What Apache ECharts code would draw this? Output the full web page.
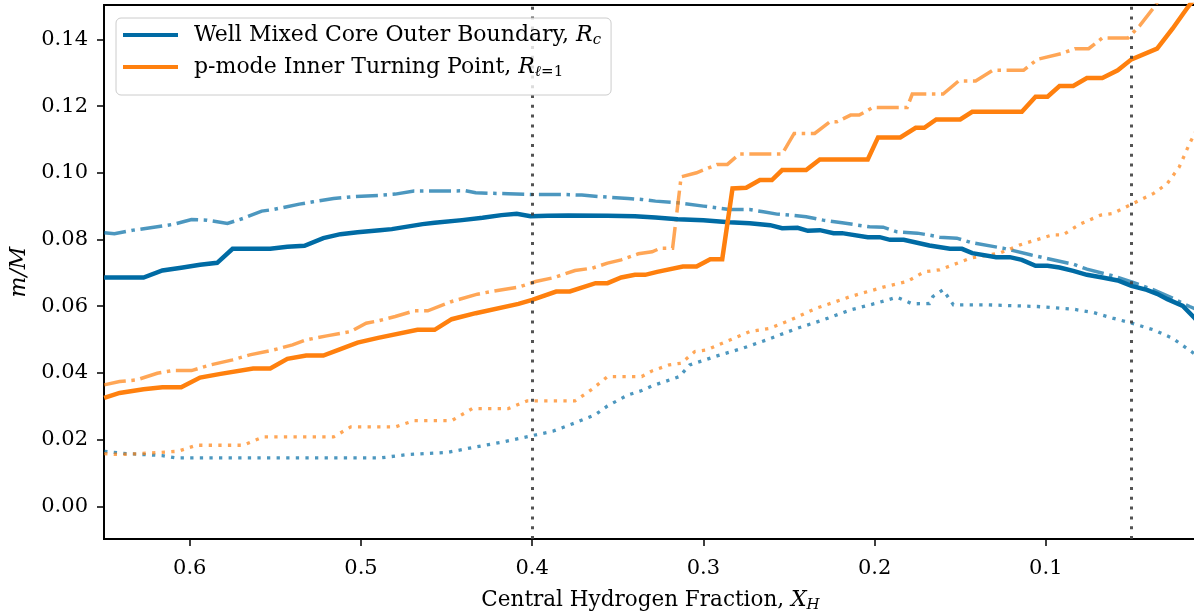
<!DOCTYPE html>
<html>
<head>
<meta charset="utf-8">
<script src="https://cdn.jsdelivr.net/npm/echarts@6/dist/echarts.min.js"></script>
<style>html,body{margin:0;padding:0;background:#fff}#c{width:1194px;height:611px}</style>
</head>
<body>
<div id="c"></div>
<script>
// ---- data (x = central hydrogen fraction, y = m/M) ----
const coreSolid = [[0.650,0.0686],[0.627,0.0686],[0.616,0.0707],[0.605,0.0715],[0.594,0.0724],[0.584,0.0730],[0.575,0.0772],[0.553,0.0772],[0.543,0.0778],[0.533,0.0781],[0.522,0.0804],[0.512,0.0816],[0.502,0.0822],[0.489,0.0828],[0.482,0.0831],[0.464,0.0846],[0.457,0.0850],[0.441,0.0858],[0.429,0.0865],[0.418,0.0873],[0.409,0.0877],[0.401,0.0870],[0.391,0.0871],[0.379,0.0872],[0.356,0.0871],[0.340,0.0870],[0.328,0.0866],[0.315,0.0861],[0.300,0.0858],[0.285,0.0852],[0.273,0.0849],[0.261,0.0843],[0.254,0.0834],[0.245,0.0835],[0.239,0.0826],[0.232,0.0828],[0.224,0.0819],[0.219,0.0819],[0.204,0.0807],[0.197,0.0807],[0.191,0.0799],[0.183,0.0799],[0.168,0.0782],[0.156,0.0772],[0.149,0.0772],[0.143,0.0759],[0.129,0.0747],[0.121,0.0747],[0.114,0.0739],[0.106,0.0721],[0.099,0.0721],[0.092,0.0716],[0.084,0.0706],[0.076,0.0694],[0.067,0.0686],[0.058,0.0677],[0.050,0.0661],[0.041,0.0649],[0.035,0.0637],[0.029,0.0621],[0.020,0.0601],[0.013,0.0564],[0.011,0.0552]];
const coreDashDot = [[0.650,0.0820],[0.644,0.0817],[0.633,0.0828],[0.619,0.0838],[0.609,0.0846],[0.599,0.0860],[0.590,0.0858],[0.578,0.0848],[0.569,0.0863],[0.558,0.0885],[0.551,0.0890],[0.536,0.0906],[0.528,0.0913],[0.516,0.0923],[0.505,0.0928],[0.490,0.0932],[0.480,0.0936],[0.469,0.0945],[0.453,0.0945],[0.439,0.0946],[0.433,0.0940],[0.414,0.0937],[0.400,0.0935],[0.383,0.0935],[0.371,0.0933],[0.359,0.0928],[0.344,0.0923],[0.336,0.0920],[0.328,0.0915],[0.315,0.0910],[0.300,0.0900],[0.285,0.0890],[0.273,0.0890],[0.265,0.0883],[0.257,0.0876],[0.249,0.0873],[0.240,0.0868],[0.230,0.0858],[0.219,0.0850],[0.203,0.0838],[0.195,0.0837],[0.187,0.0823],[0.175,0.0819],[0.168,0.0813],[0.162,0.0807],[0.152,0.0804],[0.143,0.0790],[0.125,0.0774],[0.109,0.0754],[0.096,0.0739],[0.084,0.0726],[0.076,0.0711],[0.061,0.0691],[0.049,0.0671],[0.037,0.0649],[0.026,0.0624],[0.016,0.0599],[0.011,0.0588]];
const coreDotted = [[0.650,0.0165],[0.637,0.0158],[0.616,0.0152],[0.608,0.0145],[0.489,0.0145],[0.473,0.0155],[0.449,0.0162],[0.433,0.0178],[0.418,0.0192],[0.400,0.0212],[0.388,0.0225],[0.375,0.0250],[0.363,0.0275],[0.356,0.0301],[0.344,0.0334],[0.336,0.0347],[0.330,0.0361],[0.314,0.0389],[0.308,0.0424],[0.292,0.0451],[0.277,0.0474],[0.263,0.0499],[0.245,0.0534],[0.230,0.0559],[0.214,0.0589],[0.199,0.0609],[0.187,0.0627],[0.178,0.0607],[0.168,0.0608],[0.166,0.0629],[0.160,0.0649],[0.154,0.0604],[0.134,0.0604],[0.105,0.0599],[0.084,0.0591],[0.072,0.0581],[0.061,0.0564],[0.051,0.0551],[0.037,0.0529],[0.026,0.0504],[0.015,0.0464],[0.011,0.0448]];
const pSolid = [[0.650,0.0325],[0.641,0.0340],[0.627,0.0351],[0.616,0.0357],[0.605,0.0357],[0.594,0.0386],[0.582,0.0397],[0.563,0.0413],[0.553,0.0413],[0.543,0.0442],[0.532,0.0452],[0.522,0.0452],[0.512,0.0471],[0.502,0.0491],[0.490,0.0505],[0.467,0.0529],[0.457,0.0529],[0.447,0.0561],[0.433,0.0579],[0.408,0.0607],[0.400,0.0619],[0.386,0.0644],[0.378,0.0644],[0.363,0.0669],[0.356,0.0669],[0.348,0.0686],[0.340,0.0694],[0.334,0.0694],[0.327,0.0703],[0.312,0.0719],[0.304,0.0719],[0.296,0.0741],[0.289,0.0741],[0.283,0.0953],[0.275,0.0955],[0.267,0.0978],[0.260,0.0978],[0.254,0.1008],[0.240,0.1008],[0.232,0.1040],[0.204,0.1040],[0.198,0.1106],[0.185,0.1106],[0.176,0.1135],[0.171,0.1135],[0.164,0.1160],[0.150,0.1160],[0.143,0.1183],[0.114,0.1183],[0.106,0.1228],[0.099,0.1228],[0.092,0.1260],[0.084,0.1260],[0.076,0.1284],[0.067,0.1284],[0.058,0.1307],[0.050,0.1340],[0.035,0.1372],[0.026,0.1432],[0.017,0.1497],[0.013,0.1523]];
const pDashDot = [[0.650,0.0364],[0.641,0.0374],[0.631,0.0379],[0.619,0.0399],[0.610,0.0407],[0.599,0.0407],[0.588,0.0424],[0.575,0.0439],[0.565,0.0454],[0.551,0.0469],[0.540,0.0484],[0.532,0.0499],[0.520,0.0511],[0.506,0.0524],[0.497,0.0549],[0.490,0.0556],[0.480,0.0569],[0.469,0.0586],[0.461,0.0586],[0.447,0.0614],[0.432,0.0636],[0.424,0.0644],[0.408,0.0657],[0.398,0.0674],[0.387,0.0686],[0.375,0.0707],[0.365,0.0714],[0.356,0.0729],[0.348,0.0739],[0.338,0.0757],[0.330,0.0763],[0.325,0.0774],[0.318,0.0774],[0.313,0.0988],[0.304,0.1000],[0.292,0.1025],[0.286,0.1025],[0.279,0.1056],[0.254,0.1056],[0.247,0.1118],[0.235,0.1118],[0.226,0.1153],[0.222,0.1153],[0.214,0.1173],[0.209,0.1173],[0.201,0.1196],[0.181,0.1196],[0.178,0.1236],[0.160,0.1236],[0.151,0.1275],[0.141,0.1275],[0.131,0.1307],[0.113,0.1307],[0.105,0.1340],[0.091,0.1357],[0.083,0.1372],[0.075,0.1372],[0.067,0.1404],[0.052,0.1404],[0.045,0.1442],[0.037,0.1495],[0.033,0.1526]];
const pDotted = [[0.650,0.0158],[0.641,0.0155],[0.629,0.0158],[0.607,0.0165],[0.596,0.0183],[0.569,0.0183],[0.557,0.0208],[0.516,0.0208],[0.506,0.0238],[0.480,0.0238],[0.469,0.0257],[0.447,0.0257],[0.435,0.0293],[0.414,0.0293],[0.403,0.0316],[0.375,0.0316],[0.365,0.0351],[0.356,0.0389],[0.336,0.0389],[0.330,0.0406],[0.320,0.0424],[0.313,0.0429],[0.305,0.0464],[0.298,0.0469],[0.273,0.0524],[0.261,0.0534],[0.249,0.0559],[0.234,0.0594],[0.214,0.0629],[0.195,0.0657],[0.181,0.0674],[0.171,0.0703],[0.162,0.0709],[0.144,0.0744],[0.127,0.0759],[0.115,0.0784],[0.096,0.0814],[0.090,0.0814],[0.080,0.0846],[0.068,0.0873],[0.061,0.0878],[0.049,0.0908],[0.037,0.0938],[0.029,0.0968],[0.022,0.1018],[0.016,0.1088],[0.013,0.1118],[0.011,0.1140]];
const markerX = [0.4, 0.05];
const xTicks = [0.1, 0.2, 0.3, 0.4, 0.5, 0.6];
const yTicks = [0.00, 0.02, 0.04, 0.06, 0.08, 0.10, 0.12, 0.14];
const legendNames = ['Well Mixed Core Outer Boundary', 'p-mode Inner Turning Point'];

// ---- styling ----
const FONT = 'DejaVu Serif';
const BLUE = '#006BA4', ORANGE = '#FF800E';
const DASHDOT = [22, 5.6, 3.5, 5.6];
const DOT = [3.3, 6.3];
const rich = {
  g: {fontFamily: FONT, fontSize: 22, color: '#000', lineHeight: 26, padding: [0, 0, 0, 11]},
  n: {fontFamily: FONT, fontSize: 22, color: '#000', lineHeight: 26},
  i: {fontFamily: FONT, fontSize: 22, fontStyle: 'italic', color: '#000', lineHeight: 26},
  s: {fontFamily: FONT, fontSize: 15, fontStyle: 'italic', color: '#000', lineHeight: 15, verticalAlign: 'bottom'},
  su: {fontFamily: FONT, fontSize: 15, color: '#000', lineHeight: 15, verticalAlign: 'bottom'}
};

function lineSeries(name, data, color, type, width, opacity, z) {
  return {
    name: name, type: 'line', data: data, symbol: 'none', showSymbol: false,
    clip: true, z: z, silent: true,
    lineStyle: {color: color, width: width, type: type, opacity: opacity, cap: 'butt', join: 'miter'},
    itemStyle: {color: color}
  };
}

const chart = echarts.init(document.getElementById('c'), null, {renderer: 'canvas'});
chart.setOption({
  animation: false,
  backgroundColor: '#fff',
  grid: {left: 104, right: -3, top: 5, bottom: 72, show: true, borderColor: '#000', borderWidth: 1.8,
         backgroundColor: 'transparent', containLabel: false, outerBoundsMode: 'none'},
  legend: {
    data: legendNames, orient: 'vertical', left: 116, top: 18, z: 20,
    icon: 'rect', itemWidth: 55, itemHeight: 4, itemGap: 8,
    backgroundColor: 'rgba(255,255,255,0.8)', borderColor: '#cccccc', borderWidth: 1, borderRadius: 5,
    padding: [6, 10, 15, 7],
    textStyle: {rich: rich, fontFamily: FONT, fontSize: 22, color: '#000'},
    formatter: function (name) {
      if (name === legendNames[0]) return '{g|Well Mixed Core Outer Boundary, }{i|R}{s|c}';
      return '{g|p-mode Inner Turning Point, }{i|R}{s|ℓ}{su|=1}';
    }
  },
  xAxis: {
    type: 'value', inverse: true, min: 0.0117, max: 0.6501,
    name: 'Central Hydrogen Fraction, {i|X}{s|H}', nameLocation: 'middle', nameGap: 48,
    nameTextStyle: {fontFamily: FONT, fontSize: 21.5, color: '#000', rich: rich},
    axisLine: {show: true, onZero: false, lineStyle: {color: '#000', width: 1.8}},
    axisTick: {show: true, customValues: xTicks, length: 7, inside: false, lineStyle: {color: '#000', width: 1.5}},
    axisLabel: {customValues: xTicks, formatter: function (v) { return v.toFixed(1); }, fontFamily: FONT, fontSize: 21, color: '#000', margin: 19},
    splitLine: {show: false}
  },
  yAxis: {
    type: 'value', min: -0.0098, max: 0.1503,
    name: '{i|m/M}', nameLocation: 'middle', nameGap: 72, nameRotate: 90,
    nameTextStyle: {fontFamily: FONT, fontSize: 21.5, color: '#000', rich: rich},
    axisLine: {show: true, onZero: false, lineStyle: {color: '#000', width: 1.8}},
    axisTick: {show: true, customValues: yTicks, length: 7, lineStyle: {color: '#000', width: 1.5}},
    axisLabel: {customValues: yTicks, formatter: function (v) { return v.toFixed(2); }, fontFamily: FONT, fontSize: 21, color: '#000', margin: 16},
    splitLine: {show: false}
  },
  series: [
    lineSeries('core-dashdot', coreDashDot, BLUE, DASHDOT, 3.5, 0.7, 2),
    lineSeries('core-dotted', coreDotted, BLUE, DOT, 3.3, 0.7, 2),
    lineSeries('p-dashdot', pDashDot, ORANGE, DASHDOT, 3.5, 0.7, 2),
    lineSeries('p-dotted', pDotted, ORANGE, DOT, 3.3, 0.7, 2),
    lineSeries(legendNames[0], coreSolid, BLUE, 'solid', 4.5, 1, 3),
    lineSeries(legendNames[1], pSolid, ORANGE, 'solid', 4.5, 1, 3),
    {
      name: 'markers', type: 'line', data: [], z: 4, silent: true,
      markLine: {
        silent: true, symbol: ['none', 'none'], label: {show: false},
        lineStyle: {color: '#404040', width: 3, type: [3, 6.8], opacity: 0.9},
        emphasis: {disabled: true},
        data: markerX.map(function (v) { return {xAxis: v}; })
      }
    }
  ]
});
</script>
</body>
</html>
